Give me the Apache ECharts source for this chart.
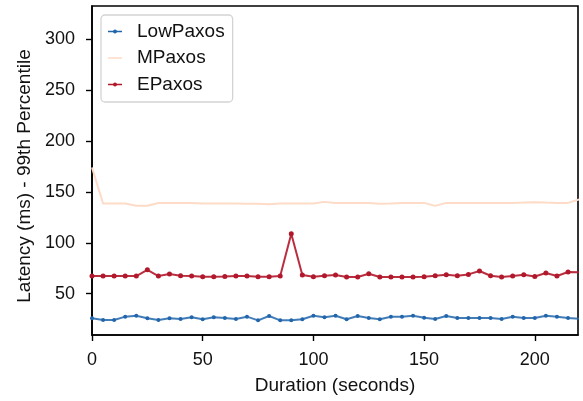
<!DOCTYPE html>
<html>
<head>
<meta charset="utf-8">
<script src="https://cdn.jsdelivr.net/npm/echarts@6/dist/echarts.min.js"></script>
<style>
  html, body { margin: 0; padding: 0; background: #fff; }
  #root { width: 583px; height: 401px; }
</style>
</head>
<body>
<div id="root"></div>
<script>
// duration in seconds, one sample every 5s
var durations = [0, 5, 10, 15, 20, 25, 30, 35, 40, 45, 50, 55, 60, 65, 70, 75, 80, 85, 90, 95, 100,
    105, 110, 115, 120, 125, 130, 135, 140, 145, 150, 155, 160, 165, 170, 175, 180, 185, 190, 195, 200,
    205, 210, 215, 220];

var lowPaxos = [25.9, 24.2, 24.2, 27.5, 28.4, 25.9, 24.2, 25.9, 25.2, 26.9, 24.9, 26.9, 26.2, 25.2, 27.5,
    23.9, 28.1, 23.9, 23.9, 24.9, 28.4, 26.9, 28.4, 24.9, 28.1, 26.2, 24.9, 27.5, 27.5, 28.4, 26.5,
    25.2, 28.1, 26.2, 26.2, 26.2, 26.2, 25.2, 27.5, 26.2, 26.2, 28.4, 27.5, 26.2, 25.5];

var mPaxos = [174, 138.6, 138.6, 138.6, 136.3, 136.3, 139, 139, 139, 139, 138.6, 138.6, 138.6, 138.6, 138.3,
    138.3, 137.9, 138.6, 138.6, 138.6, 138.6, 140.2, 139.2, 139.2, 139.2, 139.2, 138.3, 138.6, 139.2, 139.2,
    139.2, 136.3, 139.2, 139.2, 139.2, 139.2, 139.2, 139.2, 139.2, 139.5, 139.9, 139.5, 139.2, 139.2, 142.5];

var ePaxos = [67.4, 67.4, 67.4, 67.4, 67.4, 73.5, 67.4, 69.3, 67.7, 67.4, 66.7, 66.7, 67, 67.4, 67.4,
    66.7, 66.7, 67.4, 108.8, 68.3, 66.7, 67.7, 68.5, 66.4, 66.4, 69.6, 66.4, 66.4, 66.4, 66.4,
    66.7, 67.7, 68.7, 67.7, 69, 72.3, 67.7, 66.4, 67.4, 68.7, 67, 70.3, 67.4, 71.3, 71];

var yTicks = [50, 100, 150, 200, 250, 300];
var xTicks = [0, 50, 100, 150, 200];

function pairs(ys) {
    return durations.map(function (x, i) { return [x, ys[i]]; });
}

var font = 'Liberation Sans, Arial, sans-serif';
// legend icons: line with a dot, and a plain line (tiny corner specks keep the same box)
var dotLine = 'path://M0,0 L0.01,0 L0,0.01 Z M0,1.3 L14,1.3 L14,2.7 L0,2.7 Z M9,2 A2,2 0 1 1 5,2 A2,2 0 1 1 9,2 Z M14,4 L13.99,4 L14,3.99 Z';
var plainLine = 'path://M0,0 L0.01,0 L0,0.01 Z M0,1.3 L14,1.3 L14,2.7 L0,2.7 Z M14,4 L13.99,4 L14,3.99 Z';

var chart = echarts.init(document.getElementById('root'));

var option = {
    animation: false,
    backgroundColor: '#fff',
    grid: { left: 92, right: 5, top: 6, bottom: 66, show: true, borderColor: '#000', borderWidth: 1.6 },
    legend: {
        left: 101, top: 15,
        orient: 'vertical',
        itemGap: 7.5,
        itemWidth: 14, itemHeight: 4,
        padding: [7, 8, 8, 7],
        backgroundColor: '#fff',
        borderColor: '#d4d4d4', borderWidth: 1.3, borderRadius: 4,
        textStyle: { fontFamily: font, fontSize: 19, lineHeight: 19, color: '#111', padding: [0, 0, 0, 10] },
        data: [
            { name: 'LowPaxos', icon: dotLine },
            { name: 'MPaxos', icon: plainLine },
            { name: 'EPaxos', icon: dotLine }
        ]
    },
    xAxis: {
        type: 'value', min: 0, max: 219.5,
        name: 'Duration (seconds)', nameLocation: 'middle', nameGap: 41,
        nameTextStyle: { fontFamily: font, fontSize: 19, color: '#111' },
        axisLine: { lineStyle: { color: '#000', width: 1.6 } },
        axisTick: { customValues: xTicks, length: 6, lineStyle: { color: '#000', width: 1.4 } },
        axisLabel: { customValues: xTicks, fontFamily: font, fontSize: 18, color: '#111', margin: 16 },
        splitLine: { show: false }
    },
    yAxis: {
        type: 'value', min: 9.5, max: 332.5,
        name: 'Latency (ms) - 99th Percentile', nameLocation: 'middle', nameGap: 57,
        nameTextStyle: { fontFamily: font, fontSize: 19, color: '#111', padding: [0, 11, 0, 0] },
        axisLine: { show: true, lineStyle: { color: '#000', width: 1.6 } },
        axisTick: { show: true, customValues: yTicks, length: 6, lineStyle: { color: '#000', width: 1.4 } },
        axisLabel: { customValues: yTicks, fontFamily: font, fontSize: 18, color: '#111', margin: 17 },
        splitLine: { show: false }
    },
    series: [
        {
            name: 'LowPaxos', type: 'line', data: pairs(lowPaxos),
            symbol: 'circle', symbolSize: 4,
            lineStyle: { color: '#2166ac', width: 2, opacity: 0.85 },
            itemStyle: { color: '#2166ac' }
        },
        {
            name: 'MPaxos', type: 'line', data: pairs(mPaxos),
            symbol: 'none', showSymbol: false,
            lineStyle: { color: '#fddbc7', width: 2 },
            itemStyle: { color: '#fddbc7' }
        },
        {
            name: 'EPaxos', type: 'line', data: pairs(ePaxos),
            symbol: 'circle', symbolSize: 5,
            lineStyle: { color: '#b2182b', width: 2, opacity: 0.9 },
            itemStyle: { color: '#b2182b' }
        }
    ]
};
chart.setOption(option);
</script>
</body>
</html>
